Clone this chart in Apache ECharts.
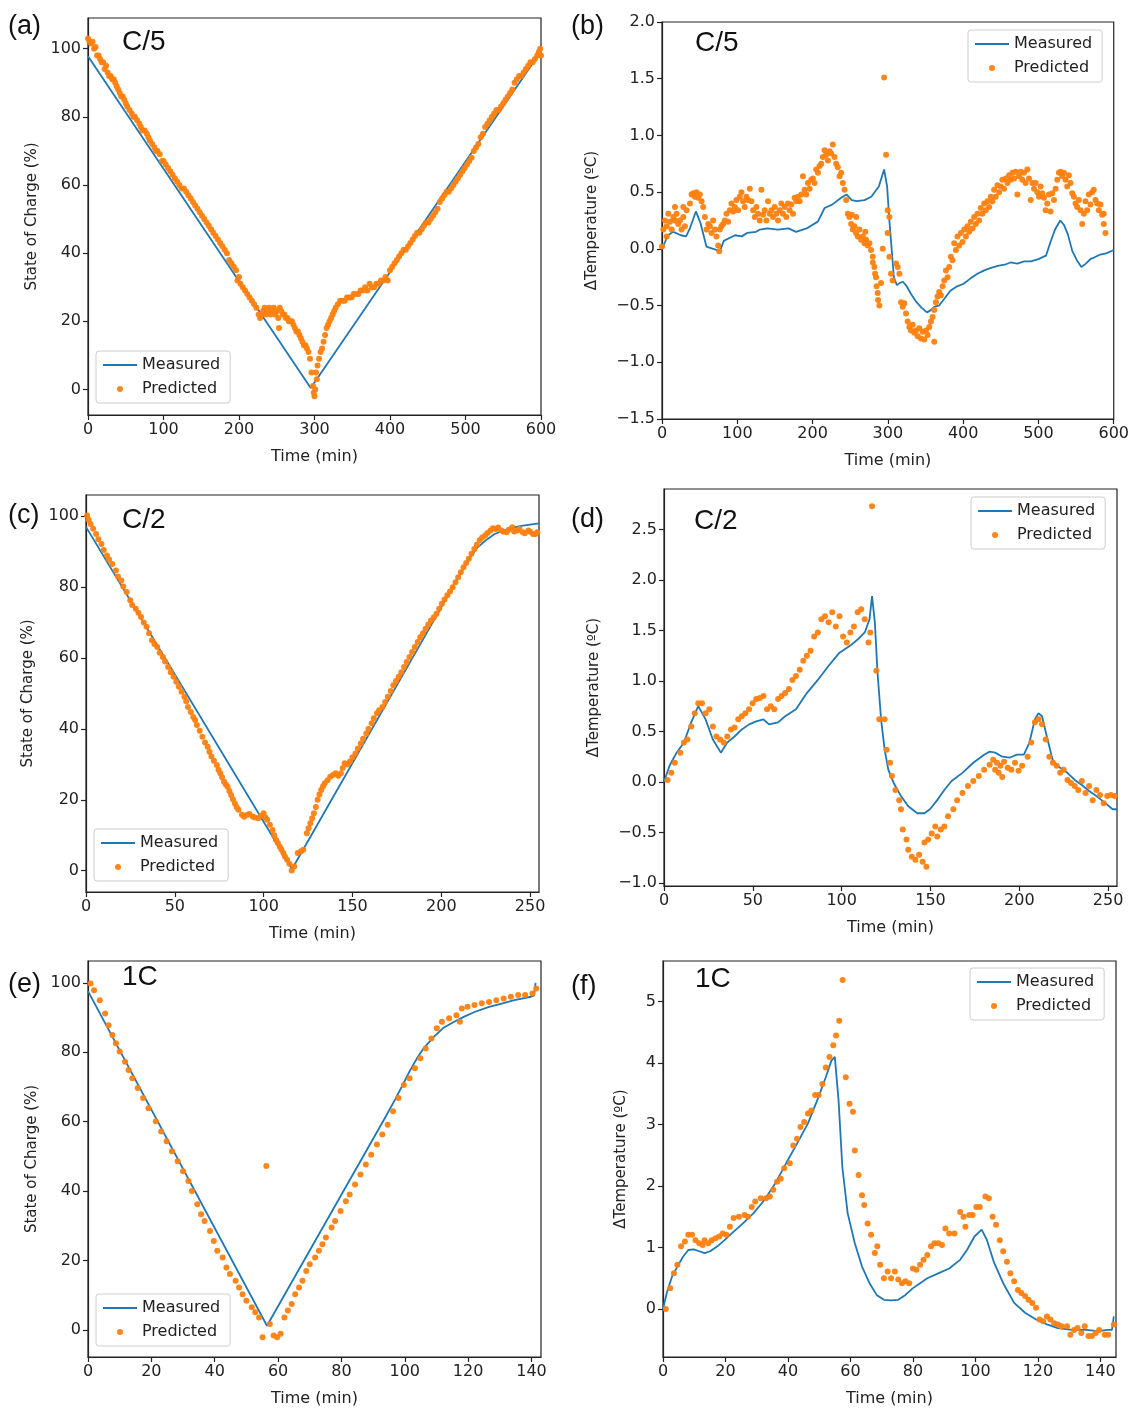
<!DOCTYPE html>
<html><head><meta charset="utf-8">
<script src="https://cdn.jsdelivr.net/npm/echarts@6/dist/echarts.min.js"></script>
<style>html,body{margin:0;padding:0;background:#fff}#c{width:1132px;height:1410px}</style>
</head><body><div id="c"></div><script>
// ---------- tick labels ----------
const ticks600 = [0,100,200,300,400,500,600];
const ticks250 = [0,50,100,150,200,250];
const ticks140 = [0,20,40,60,80,100,120,140];
const socTicks = [0,20,40,60,80,100];
const bTempTicks = [-1.5,-1.0,-0.5,0.0,0.5,1.0,1.5,2.0];
const dTempTicks = [-1.0,-0.5,0.0,0.5,1.0,1.5,2.0,2.5];
const fTempTicks = [0,1,2,3,4,5];

// ---------- (a) C/5 state of charge ----------
const aMeasured = [[0,97.8],[295,0.4],[597,98.3],[600,99]];
const aPredicted = [[0,103],[2,102],[4,101.5],[6,102],[8,100],[10,100.5],[12,98],[14,98],[16,97],[18,96],[20,96],[22,94],[24,95],[26,93],[28,92],[30,92],[32,91],[34,91],[36,90],[38,89],[40,88],[42,87],[44,86],[46,86],[48,85],[50,84],[52,83],[55,82],[58,81],[60,80],[62,80],[65,79],[68,78],[70,77],[72,76],[75,76],[78,75],[80,74],[82,73],[85,72],[88,71],[90,70],[92,70],[95,69],[98,67],[100,67],[103,66],[106,65],[109,64],[112,63],[115,62],[118,61],[121,60],[124,59],[127,59],[130,58],[133,57],[136,56],[139,55],[142,54],[145,53],[148,52],[151,51],[154,50],[157,49],[160,48],[163,47],[166,46],[169,45],[172,44],[175,43],[178,42],[181,41],[184,40],[187,38],[190,37],[193,36],[196,35],[198,32],[200,33],[202,31],[205,30],[208,29],[211,28],[214,27],[217,26],[220,25],[223,24],[226,22],[228,21],[230,22],[232,23],[234,24],[236,22],[238,23],[240,24],[242,22],[244,23],[246,24],[248,22],[250,23],[252,21],[253,18],[254,24],[256,23],[258,22],[260,22],[262,21],[264,21],[266,20],[268,20],[270,20],[272,19],[274,18],[276,17],[278,17],[280,16],[282,15],[284,14],[286,13],[288,13],[290,12],[292,11],[294,9],[296,5],[298,1],[299,-1],[300,-2],[301,0],[302,5],[303,3],[304,7],[306,9],[308,11],[310,12],[312,14],[314,16],[316,18],[318,19],[320,20],[322,21],[324,22],[326,23],[328,24],[331,25],[334,26],[337,26],[340,26],[343,27],[346,27],[349,27],[352,28],[355,28],[358,28],[361,29],[364,29],[367,30],[370,29],[373,31],[376,30],[379,30],[382,31],[385,31],[388,32],[391,32],[394,33],[397,32],[400,35],[403,36],[406,37],[409,38],[412,39],[415,40],[418,41],[421,41],[424,42],[427,43],[430,44],[433,45],[436,46],[439,46],[442,47],[445,48],[448,49],[451,49],[454,50],[457,51],[460,52],[463,53],[466,55],[469,56],[472,57],[475,58],[478,58],[481,59],[484,60],[487,61],[490,62],[493,63],[496,64],[499,65],[502,66],[505,67],[508,68],[511,70],[514,71],[517,72],[520,74],[523,75],[526,77],[529,78],[532,79],[535,80],[538,81],[541,82],[544,82],[547,83],[550,84],[553,85],[556,86],[559,87],[562,88],[565,90],[568,91],[571,92],[574,92],[577,93],[580,94],[583,95],[586,96],[589,96],[592,97],[595,98],[597,99],[599,100],[600,98]];

// ---------- (b) C/5 temperature ----------
const bMeasured = [[0,0.0],[8,0.12],[15,0.15],[25,0.12],[32,0.11],[37,0.18],[45,0.33],[51,0.23],[59,0.02],[68,0.0],[77,-0.02],[82,0.07],[97,0.12],[106,0.11],[113,0.14],[125,0.15],[130,0.17],[140,0.18],[154,0.17],[168,0.18],[178,0.15],[192,0.18],[207,0.24],[216,0.36],[226,0.39],[238,0.45],[245,0.48],[252,0.43],[259,0.42],[269,0.43],[278,0.46],[288,0.55],[295,0.70],[299,0.55],[302,0.25],[305,0.0],[308,-0.25],[312,-0.32],[316,-0.30],[320,-0.29],[325,-0.33],[331,-0.40],[338,-0.47],[345,-0.52],[352,-0.56],[357,-0.54],[362,-0.51],[368,-0.50],[375,-0.44],[383,-0.37],[392,-0.33],[400,-0.31],[410,-0.26],[419,-0.22],[428,-0.19],[436,-0.17],[446,-0.15],[455,-0.14],[463,-0.12],[472,-0.13],[481,-0.11],[490,-0.11],[500,-0.09],[510,-0.06],[516,0.06],[522,0.17],[529,0.25],[534,0.21],[539,0.13],[545,-0.02],[551,-0.10],[557,-0.16],[563,-0.13],[569,-0.09],[576,-0.07],[582,-0.05],[590,-0.04],[600,-0.01]];
const bPredicted = [[0,0.02],[1.8,0.17],[4.0,0.25],[6.2,0.20],[6.2,0.11],[8.4,0.31],[10.6,0.24],[12.8,0.17],[15.0,0.28],[17.2,0.37],[17.2,0.25],[19.4,0.31],[21.6,0.22],[23.8,0.25],[26.0,0.17],[28.3,0.28],[28.3,0.37],[30.5,0.20],[32.7,0.34],[37.1,0.40],[39.3,0.48],[41.5,0.49],[43.7,0.46],[46.0,0.50],[48.1,0.45],[50.3,0.48],[52.5,0.42],[54.7,0.37],[56.9,0.28],[59.2,0.17],[61.4,0.22],[63.6,0.20],[65.8,0.14],[68.0,0.25],[70.2,0.17],[72.4,0.11],[74.6,0.03],[76.0,-0.02],[76.8,0.17],[79.0,0.20],[81.2,0.22],[83.4,0.25],[85.7,0.31],[87.9,0.24],[90.1,0.34],[92.3,0.40],[94.5,0.33],[96.7,0.37],[98.9,0.43],[101.1,0.34],[103.3,0.46],[105.5,0.50],[107.7,0.42],[109.9,0.37],[112.1,0.46],[114.4,0.43],[116.6,0.53],[118.8,0.42],[121.0,0.34],[123.2,0.28],[125.4,0.37],[127.6,0.31],[129.8,0.25],[132.0,0.52],[134.2,0.30],[136.4,0.34],[138.6,0.25],[140.8,0.42],[143.0,0.31],[145.3,0.34],[147.5,0.28],[149.7,0.37],[151.9,0.31],[154.1,0.25],[156.3,0.34],[158.5,0.40],[160.7,0.31],[162.9,0.37],[165.1,0.28],[167.3,0.40],[169.5,0.34],[171.7,0.39],[174.0,0.31],[176.2,0.45],[178.4,0.42],[180.6,0.46],[182.8,0.42],[185.0,0.48],[187.2,0.64],[189.4,0.52],[191.6,0.48],[193.8,0.58],[196.0,0.53],[198.2,0.61],[200.4,0.62],[202.6,0.58],[204.9,0.70],[207.1,0.67],[209.3,0.73],[211.5,0.75],[213.7,0.81],[215.9,0.87],[218.1,0.83],[220.3,0.78],[222.5,0.86],[224.7,0.84],[226.9,0.92],[229.1,0.81],[231.3,0.75],[233.5,0.72],[235.8,0.64],[238.0,0.67],[240.2,0.58],[242.4,0.52],[244.6,0.43],[246.8,0.31],[249.0,0.28],[251.2,0.22],[252,0.30],[253.4,0.17],[255.6,0.20],[257.8,0.14],[258,0.28],[260.0,0.11],[262.2,0.17],[264.5,0.08],[266.7,0.11],[268.9,0.05],[270,0.15],[271.1,0.08],[273.3,0.03],[275.5,0.05],[277.7,-0.01],[279.9,-0.07],[280,-0.12],[282.1,-0.16],[283,-0.22],[284.3,-0.25],[285,-0.33],[286.5,-0.39],[287,-0.45],[288.7,-0.50],[290.9,-0.30],[293.2,0.00],[295,1.51],[297.6,0.83],[299.8,0.34],[302.0,0.28],[299.8,0.14],[302.0,-0.07],[304.2,-0.22],[306.4,-0.28],[310.9,-0.13],[313.1,-0.16],[315.3,-0.22],[317.5,-0.47],[319.7,-0.51],[321.9,-0.48],[324.1,-0.57],[326.3,-0.64],[328.5,-0.69],[330.7,-0.72],[332.9,-0.67],[335.1,-0.74],[337.3,-0.72],[339.6,-0.77],[341.8,-0.70],[344.0,-0.79],[346.2,-0.73],[348.4,-0.80],[350.6,-0.72],[352.8,-0.76],[355.0,-0.69],[357.2,-0.64],[359.4,-0.60],[361.6,-0.82],[361.6,-0.54],[363.8,-0.47],[366.0,-0.42],[368.2,-0.38],[370.5,-0.41],[372.7,-0.33],[374.9,-0.28],[377.1,-0.19],[379.3,-0.25],[381.5,-0.16],[383.7,-0.07],[385.9,-0.10],[388.1,0.05],[390.3,-0.01],[392.5,0.11],[394.7,0.03],[397.0,0.14],[399.2,0.06],[401.4,0.17],[403.6,0.11],[405.8,0.20],[408.0,0.15],[410.2,0.24],[412.4,0.18],[414.6,0.28],[416.8,0.22],[419.0,0.31],[421.2,0.25],[423.4,0.36],[425.6,0.31],[427.9,0.40],[430.1,0.34],[432.3,0.42],[434.5,0.37],[436.7,0.46],[438.9,0.42],[441.1,0.52],[443.3,0.46],[445.5,0.56],[447.7,0.50],[449.9,0.55],[452.1,0.61],[454.3,0.53],[456.6,0.62],[458.8,0.58],[461.0,0.65],[463.2,0.61],[465.4,0.67],[467.6,0.62],[469.8,0.68],[472.0,0.48],[474.2,0.64],[476.4,0.68],[478.6,0.61],[480.8,0.67],[483.0,0.58],[485.3,0.70],[487.5,0.62],[489.7,0.43],[491.9,0.58],[494.1,0.53],[496.3,0.58],[498.5,0.50],[500.7,0.46],[502.9,0.55],[505.1,0.49],[507.3,0.45],[509.5,0.34],[511.7,0.40],[513.9,0.48],[516.2,0.33],[518.4,0.49],[520.6,0.43],[522.8,0.53],[525.0,0.61],[527.2,0.67],[529.4,0.68],[531.6,0.64],[533.8,0.67],[536.0,0.61],[538.2,0.55],[540.4,0.65],[542.6,0.58],[544.9,0.49],[547.1,0.46],[549.3,0.40],[551.5,0.37],[553.7,0.43],[555.9,0.34],[558.1,0.22],[560.3,0.31],[562.5,0.42],[564.7,0.34],[566.9,0.48],[569.1,0.39],[571.3,0.50],[573.5,0.52],[575.8,0.43],[578.0,0.40],[580.2,0.34],[582.4,0.39],[584.6,0.30],[586.8,0.22],[586.8,0.31],[589.0,0.14]];

// ---------- (c) C/2 state of charge ----------
const cMeasured = [[0,97],[116,0.5],[215,87.5],[220,91],[225,93.2],[230,95],[238,96.5],[245,97.3],[255,98]];
const cPredicted = [[0.6,100.2],[1.5,99],[2.6,97.8],[4,96.5],[5.7,95],[7,93.5],[8.7,92.2],[10,90.5],[11.8,88.9],[13,87.8],[14.8,86.5],[16.8,84.7],[18,83],[19.9,81.9],[21,80.2],[22.9,78.6],[24.9,76.3],[26,75],[28,73.9],[29.5,72.8],[31,71.6],[32.5,70],[34.1,68.8],[35.5,67],[37.1,65],[38.5,64],[40.1,63.1],[41.5,61.5],[43.2,60.3],[44.5,59],[46.2,57.5],[47.7,56],[49.3,54.7],[50.8,53.3],[52.3,51.9],[53.8,50.5],[55.4,49.1],[56.4,47.8],[57.4,46.2],[59,44.8],[60.4,43.4],[61.4,42.5],[62.4,41.1],[64,39.5],[65.5,37.8],[67,36.2],[68.5,35],[69.5,33.6],[70.6,32.2],[72,31],[73.6,29.8],[74.6,28.5],[75.6,27.5],[76.6,26.4],[77.7,25.1],[78.7,24.3],[79.7,23.7],[80.7,22.5],[81.7,21.4],[82.7,20.2],[83.8,19],[84.8,18],[85.8,17.2],[87.8,15.8],[89,15.2],[90.8,15.8],[92,16],[93.9,15.3],[95,15],[96.9,14.8],[98.5,15.5],[100,16.2],[101,15],[102,14.4],[103.5,13],[105,11.5],[106,10],[107,8.7],[108,7.8],[109.1,6.8],[110,6],[111.1,5],[112,4],[113.2,3.1],[114.5,2],[115.8,0.1],[117.2,1.2],[119.2,5],[121,5.5],[122.3,5.9],[124.3,10.6],[125.3,12],[126.3,13.4],[127.3,14.8],[128.3,16.2],[129.4,18],[130.4,20],[131.4,21.5],[132.4,22.8],[133.4,23.8],[134.4,24.7],[136,25.5],[137.5,26.5],[139,27],[140.5,27.5],[142,26.8],[143.5,27.5],[144.5,29],[145.6,30.3],[147,30],[148.6,30.8],[150,32],[151.7,33.1],[153,34.5],[154.7,35.9],[156,37.2],[157.8,38.7],[159,40],[160.8,41.6],[162,43],[163.8,44.4],[165,45.3],[166.9,46.2],[168.4,47.6],[169.9,49.1],[171.5,50.7],[173,52.3],[174.5,53.5],[176,54.7],[177.5,56],[179,57.5],[180.5,58.9],[182.1,60.3],[183.6,61.7],[185.1,63.1],[186.7,64.5],[188.2,65.9],[189.7,67],[191.2,68.3],[192.7,69.5],[194.2,70.6],[195.8,71.5],[197.3,72.5],[198.8,73.9],[200.3,75.3],[201.8,76.5],[203.4,77.7],[204.9,78.8],[206.4,80],[208,81.4],[209.5,82.8],[211,84.2],[212.5,85.6],[214,86.8],[215.5,88],[217,89.4],[218.6,90.8],[220,92],[221.6,93.2],[223,94],[224.7,94.6],[226,95.3],[227.7,96],[229,96.6],[230.7,96.4],[232,96.8],[233.8,96],[235,95.6],[236.8,95.5],[238,96.2],[239.9,96.9],[241,95.7],[242.9,96],[244,96.4],[245.9,95.5],[247,95.2],[249,96],[250,95.6],[251.6,95],[253,95],[254,95.5]];

// ---------- (d) C/2 temperature ----------
const dMeasured = [[0,0],[3.1,0.16],[7.1,0.29],[11.2,0.39],[15.3,0.59],[19.3,0.75],[23.4,0.62],[27.5,0.42],[32,0.29],[35.6,0.39],[39.7,0.45],[43.8,0.52],[47.9,0.57],[51.9,0.60],[56,0.62],[59.1,0.57],[64.2,0.59],[68.2,0.65],[74.3,0.72],[80.4,0.88],[86.6,1.01],[92.7,1.15],[98.8,1.28],[104.9,1.35],[109,1.41],[113,1.48],[115.7,1.61],[117.1,1.84],[118.7,1.58],[120.2,1.08],[122.2,0.62],[124.2,0.32],[126.3,0.12],[129.3,-0.01],[133.4,-0.14],[137.5,-0.24],[142.6,-0.31],[146.6,-0.31],[149.7,-0.27],[153.8,-0.18],[157.8,-0.08],[161.9,0.01],[168,0.09],[174.1,0.19],[180.2,0.27],[183.3,0.30],[186.4,0.29],[190.4,0.25],[194.5,0.24],[198.6,0.27],[202.6,0.27],[205.7,0.39],[208.8,0.62],[210.8,0.68],[212.8,0.65],[215.9,0.42],[218.9,0.21],[223,0.14],[227.1,0.09],[231.2,0.02],[235.2,-0.03],[239.3,-0.09],[243.4,-0.14],[248.5,-0.21],[252.5,-0.27],[255,-0.27]];
const dPredicted = [[2,0.02],[4.1,0.09],[6.1,0.19],[9.2,0.29],[11.2,0.39],[13.2,0.42],[15.3,0.55],[17.3,0.68],[19.3,0.78],[21.4,0.78],[23.4,0.68],[25.5,0.72],[27.5,0.55],[29.5,0.45],[31.6,0.42],[33.6,0.39],[35.6,0.45],[37.7,0.52],[39.7,0.54],[41.8,0.62],[43.8,0.65],[45.8,0.68],[47.9,0.72],[49.9,0.78],[51.9,0.82],[54,0.83],[56,0.85],[58,0.72],[60.1,0.75],[62.1,0.72],[64.2,0.82],[66.2,0.85],[68.2,0.88],[70.3,0.92],[72.3,1.01],[74.3,1.05],[76.4,1.11],[78.4,1.2],[80.4,1.25],[82.5,1.3],[84.5,1.44],[86.6,1.48],[88.6,1.61],[90.6,1.64],[92.7,1.58],[94.7,1.68],[96.7,1.54],[98.8,1.64],[100.8,1.44],[102.9,1.38],[104.9,1.48],[106.9,1.54],[109,1.68],[111,1.71],[113,1.61],[115.1,1.38],[116.1,1.48],[117.1,2.73],[119.5,1.1],[121.2,0.62],[124.2,0.62],[125.3,0.32],[127.3,0.19],[128.3,0.06],[130.3,-0.08],[132.4,-0.18],[133.4,-0.27],[134.4,-0.47],[136.5,-0.57],[137.5,-0.67],[139.5,-0.74],[141.5,-0.77],[143.6,-0.72],[145.6,-0.79],[147.7,-0.84],[146.6,-0.6],[148.7,-0.57],[150.7,-0.51],[152.7,-0.44],[153.8,-0.54],[155.8,-0.47],[157.8,-0.44],[159.9,-0.34],[162.9,-0.27],[165,-0.18],[168,-0.11],[171.1,-0.04],[174.1,0.01],[177.2,0.06],[180.2,0.12],[183.3,0.17],[185.3,0.22],[186.4,0.12],[187.4,0.19],[188.4,0.09],[189.4,0.16],[190.4,0.05],[191.4,0.2],[193.5,0.14],[195.5,0.12],[197.6,0.19],[199.6,0.11],[201.6,0.16],[204.7,0.25],[206.7,0.39],[208.8,0.59],[210.8,0.62],[212.8,0.57],[214.9,0.42],[216.9,0.25],[218.9,0.19],[221,0.16],[223,0.09],[225,0.12],[227.1,0.02],[229.1,-0.01],[231.2,-0.04],[233.2,-0.08],[235.2,0.01],[237.3,-0.11],[239.3,-0.04],[241.3,-0.18],[243.4,-0.08],[245.4,-0.13],[247.5,-0.21],[249.5,-0.14],[251.5,-0.13],[253.6,-0.14]];

// ---------- (e) 1C state of charge ----------
const eMeasured = [[0,97.6],[56.5,1.2],[94,61.5],[97,66.5],[99,70],[101.5,74.5],[104,78.5],[106,81.2],[109,84.3],[112,86.9],[115,88.5],[118.6,90.2],[122,91.6],[126.6,93.1],[130,93.9],[134.6,95],[139.8,96],[140.8,96.3],[141.3,100]];
const ePredicted = [[0.8,99.8],[1.9,97.9],[3.7,95],[5.4,91.2],[6.5,87.8],[7.7,85],[8.8,82.6],[10,80.2],[11.7,77.3],[12.8,74.9],[14,72.5],[15.7,69.7],[17.4,66.8],[19.1,63.9],[21.4,60.1],[23.1,57.2],[24.8,54.4],[26.5,51.5],[28.3,48.6],[30,45.7],[31.7,42.9],[32.8,40],[34.5,36.2],[35.7,33.3],[36.8,31.4],[38.5,28.5],[39.7,25.6],[40.8,22.8],[42.5,20.9],[43.7,18],[44.8,16.1],[46.6,14.2],[47.7,12.2],[48.8,10.3],[50,8.4],[51.7,6.5],[52.8,5.1],[54,3.6],[55.1,-2.1],[56.3,47.2],[57.4,1.7],[58.6,-1.6],[59.7,-2.1],[60.8,-1.1],[62,3.6],[63.1,5.6],[64.3,7.5],[65.4,10.3],[66.6,12.2],[67.7,14.2],[68.9,17],[70,18.9],[71.7,20.9],[72.9,22.8],[74,24.7],[75.1,26.6],[76.9,29.5],[78,31.4],[79.7,34.3],[81.4,37.1],[82.6,39],[84.3,41.9],[86,44.8],[87.7,47.7],[89.4,50.5],[91.2,53.4],[92.9,56.3],[94.6,59.1],[96.3,63],[98,66.8],[99.7,70.6],[101.5,72.5],[103.2,75.4],[104.9,78.3],[106.6,81.1],[108.4,84],[110.1,86.9],[111.7,88.8],[114,89.8],[116.3,90.7],[117.4,88.8],[118,92.6],[119.8,93.1],[122,93.6],[124.3,94.1],[126.6,94.5],[128.9,95],[131.2,95.5],[133.5,96],[135.8,96.5],[138,96.5],[140.3,96.9],[141.5,98.4]];

// ---------- (f) 1C temperature ----------
const fMeasured = [[0,0],[1.2,0.26],[2.9,0.53],[4.6,0.69],[6.4,0.85],[8.1,0.96],[9.8,0.97],[11.6,0.94],[13.3,0.91],[15.1,0.94],[17.4,1.02],[19.7,1.12],[22,1.23],[25.5,1.39],[29,1.56],[32.4,1.77],[35.9,2.04],[39.4,2.37],[42.9,2.69],[46.4,3.02],[49.8,3.45],[52.1,3.77],[53.9,4.04],[55,4.1],[56.2,3.39],[57.4,2.31],[59.1,1.56],[61.4,1.07],[63.7,0.69],[66.1,0.42],[68.4,0.23],[70.7,0.15],[73,0.14],[75.3,0.15],[77.6,0.23],[80,0.34],[82.3,0.42],[84.6,0.5],[88.1,0.58],[91.6,0.66],[95.1,0.8],[97.3,0.96],[99.7,1.18],[102,1.29],[103.7,1.12],[106,0.75],[108.9,0.42],[112.4,0.1],[115.9,-0.06],[119.4,-0.17],[122.9,-0.25],[126.4,-0.31],[131,-0.34],[135.6,-0.34],[139.1,-0.36],[142.5,-0.34],[143.7,-0.34],[144.3,-0.12]];
const fPredicted = [[0.9,0],[2.3,0.34],[3.5,0.58],[4.6,0.72],[5.8,1.02],[7,1.1],[8.1,1.21],[9.3,1.21],[10.4,1.12],[11.6,1.07],[12.7,1.04],[13.3,1.12],[14.5,1.07],[15.6,1.12],[16.8,1.15],[18,1.18],[19.1,1.23],[20.3,1.21],[21.4,1.34],[22.6,1.48],[24.3,1.5],[26.1,1.53],[27.2,1.5],[28.4,1.66],[29.5,1.75],[31.3,1.8],[33,1.8],[34.2,1.83],[35.3,1.94],[36.5,2.07],[37.7,2.12],[38.8,2.29],[40.6,2.37],[41.7,2.66],[42.9,2.77],[44,2.96],[45.2,3.04],[46.4,3.18],[47.5,3.23],[48.7,3.48],[49.8,3.48],[51,3.66],[52.1,3.93],[53.3,4.1],[54.5,4.29],[55.4,4.45],[56.4,4.69],[57.5,5.35],[58.5,3.77],[59.7,3.34],[60.8,3.21],[61.4,2.58],[62.6,2.18],[63.7,1.85],[64.4,1.69],[65.5,1.39],[66.6,1.21],[67.8,0.91],[68.6,1.02],[69.5,0.72],[70.7,0.5],[71.9,0.61],[73,0.5],[74.2,0.61],[75.3,0.48],[76.5,0.42],[77.6,0.45],[78.8,0.42],[80,0.66],[81.1,0.64],[82.3,0.72],[83.4,0.8],[84.6,0.88],[85.8,1.02],[86.9,1.07],[88.1,1.07],[89.3,1.04],[90.4,1.31],[91.6,1.23],[93.3,1.23],[95.1,1.58],[96.2,1.5],[96.8,1.34],[98,1.53],[99.1,1.53],[100.3,1.66],[101.4,1.66],[103.2,1.83],[104.3,1.8],[105.5,1.5],[106.6,1.37],[107.8,1.12],[108.9,0.94],[110.1,0.77],[111.2,0.58],[112.4,0.45],[113.6,0.31],[114.7,0.26],[115.9,0.21],[117,0.15],[118.2,0.1],[119.4,0.02],[120.5,-0.17],[121.7,-0.2],[122.9,-0.12],[124,-0.17],[125.2,-0.23],[126.4,-0.25],[127.5,-0.28],[129.3,-0.28],[130.4,-0.42],[131.6,-0.34],[132.7,-0.31],[133.9,-0.39],[135,-0.28],[136.2,-0.44],[137.3,-0.44],[138.5,-0.39],[139.6,-0.34],[141.4,-0.42],[142.5,-0.42],[144.3,-0.25]];

// ---------- text ----------
const panelTags = ['(a)','(b)','(c)','(d)','(e)','(f)'];
const rateTags = ['C/5','C/5','C/2','C/2','1C','1C'];
const socName = 'State of Charge (%)';
const tempName = '\u0394Temperature (\u00baC)';
const xName = 'Time (min)';

const F = 'DejaVu Sans';
const INK = '#222';
const FS = 16;
const minusFmt1 = v => (v < 0 ? '\u2212' : '') + Math.abs(v).toFixed(1);
const intFmt = v => String(Math.round(v));

const panels = [
  {grid:[88,18,453,397], x:[0,600], y:[-7.5,109], xt:ticks600, yt:socTicks, fmt:intFmt, yName:socName, gap:48, meas:aMeasured, pred:aPredicted, leg:[96,351], tag:[8,28], rate:[122,44]},
  {grid:[662,22,453,397], x:[0,600], y:[-1.5,2.0], xt:ticks600, yt:bTempTicks, fmt:minusFmt1, yName:tempName, gap:62, meas:bMeasured, pred:bPredicted, leg:[968,30], tag:[571,28], rate:[695,45]},
  {grid:[86,495,453,397], x:[0,255], y:[-6,106], xt:ticks250, yt:socTicks, fmt:intFmt, yName:socName, gap:50, meas:cMeasured, pred:cPredicted, leg:[94,829], tag:[8,517], rate:[122,522]},
  {grid:[664,489,453,397], x:[0,255], y:[-1.03,2.9], xt:ticks250, yt:dTempTicks, fmt:minusFmt1, yName:tempName, gap:62, meas:dMeasured, pred:dPredicted, leg:[971,497], tag:[571,521], rate:[694,523]},
  {grid:[88,961,453,396], x:[0,143], y:[-7.8,106.3], xt:ticks140, yt:socTicks, fmt:intFmt, yName:socName, gap:48, meas:eMeasured, pred:ePredicted, leg:[96,1294], tag:[8,986], rate:[122,979]},
  {grid:[663,961,453,396], x:[0,145], y:[-0.78,5.66], xt:ticks140, yt:fTempTicks, fmt:intFmt, yName:tempName, gap:34, meas:fMeasured, pred:fPredicted, leg:[970,968], tag:[571,988], rate:[695,981]}
];

const grids = [], xAxes = [], yAxes = [], series = [], legends = [], graphics = [];
panels.forEach((p, i) => {
  grids.push({left:p.grid[0], top:p.grid[1], width:p.grid[2], height:p.grid[3], show:true, borderColor:INK, borderWidth:1.2, backgroundColor:'#fff'});
  const common = {
    axisLine:{show:true, onZero:false, lineStyle:{color:INK, width:1.2}},
    splitLine:{show:false},
    nameLocation:'middle',
    nameTextStyle:{fontSize:FS, color:INK, fontFamily:F}
  };
  xAxes.push(Object.assign({}, common, {
    gridIndex:i, type:'value', min:p.x[0], max:p.x[1], name:xName, nameGap:34,
    axisTick:{show:true, inside:false, length:5, customValues:p.xt, lineStyle:{color:INK, width:1.2}},
    axisLabel:{customValues:p.xt, fontSize:FS, color:INK, fontFamily:F, margin:7, formatter:intFmt}
  }));
  yAxes.push(Object.assign({}, common, {
    gridIndex:i, type:'value', min:p.y[0], max:p.y[1], name:p.yName, nameGap:p.gap,
    nameTextStyle:{fontSize:15, color:INK, fontFamily:F},
    axisTick:{show:true, inside:false, length:5, customValues:p.yt, lineStyle:{color:INK, width:1.2}},
    axisLabel:{customValues:p.yt, fontSize:FS, color:INK, fontFamily:F, margin:7, formatter:p.fmt}
  }));
  series.push({name:'Measured', type:'line', xAxisIndex:i, yAxisIndex:i, data:p.meas, showSymbol:false, symbol:'none',
    lineStyle:{color:'#1f77b4', width:1.8}, itemStyle:{color:'#1f77b4'}, z:2, clip:true});
  series.push({name:'Predicted', type:'scatter', xAxisIndex:i, yAxisIndex:i, data:p.pred, symbolSize:6,
    itemStyle:{color:'#ff7f0e', opacity:0.95}, z:3, clip:true});
  legends.push({
    orient:'vertical', left:p.leg[0], top:p.leg[1], itemWidth:34, itemHeight:6, itemGap:8,
    padding:[6,10,6,7], backgroundColor:'rgba(255,255,255,0.9)', borderColor:'#cccccc', borderWidth:1, borderRadius:3,
    selectedMode:false, textStyle:{fontSize:FS, color:INK, fontFamily:F},
    data:[{name:'Measured', icon:'path://M0,0H34V1.8H0Z'}, {name:'Predicted', icon:'circle'}]
  });
  graphics.push({type:'text', left:p.tag[0], top:p.tag[1]-15, z:10,
    style:{text:panelTags[i], font:'27px "Liberation Sans"', fill:'#111'}});
  graphics.push({type:'text', left:p.rate[0], top:p.rate[1]-16, z:10,
    style:{text:rateTags[i], font:'28px "Liberation Sans"', fill:'#111'}});
});

const chart = echarts.init(document.getElementById('c'), null, {renderer:'canvas'});
chart.setOption({
  animation:false,
  backgroundColor:'#fff',
  grid:grids, xAxis:xAxes, yAxis:yAxes, series:series, legend:legends, graphic:graphics
});
</script></body></html>
